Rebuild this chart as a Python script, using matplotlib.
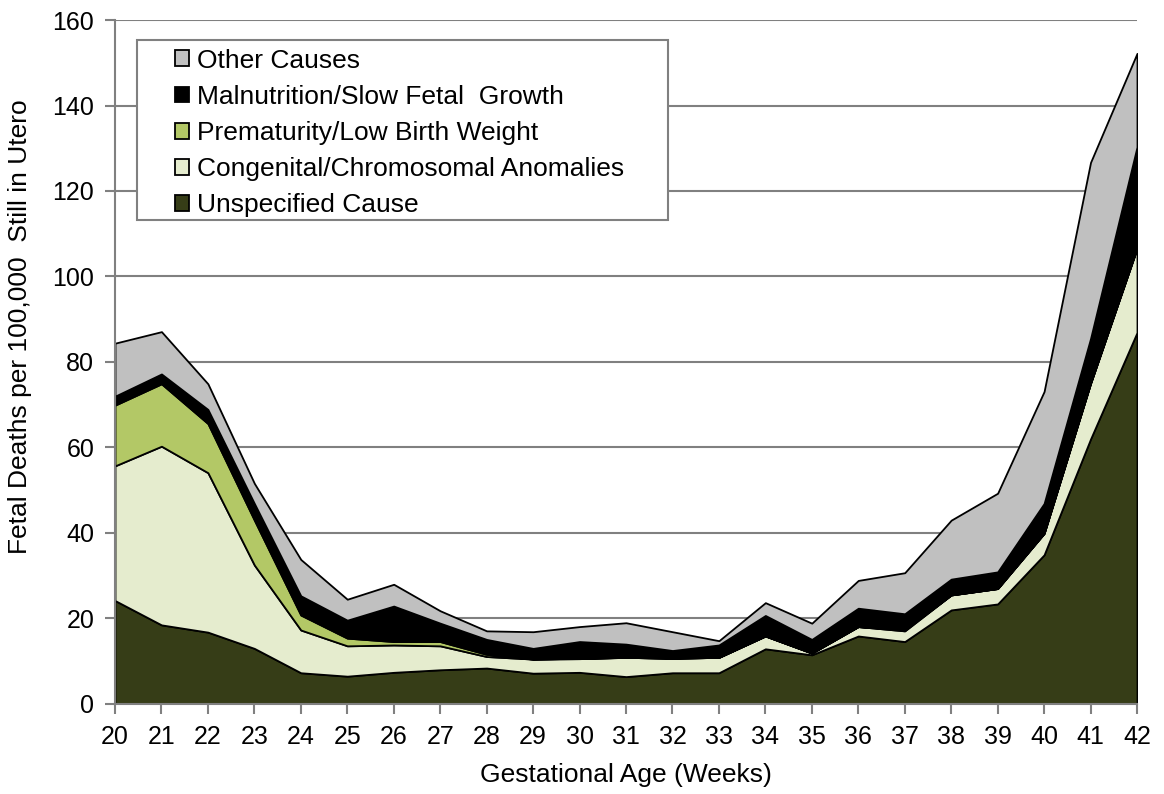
import matplotlib
matplotlib.use("Agg")
import matplotlib.pyplot as plt
from matplotlib.patches import Rectangle
import numpy as np

plt.rcParams['font.family'] = ['Liberation Sans', 'DejaVu Sans']

weeks = list(range(20, 43))
unspecified = [24.2, 18.5, 16.8, 13.0, 7.3, 6.5, 7.4, 8.0, 8.4, 7.2, 7.4, 6.4, 7.3, 7.3,
               12.9, 11.5, 15.9, 14.6, 22.0, 23.4, 34.9, 62.0, 86.9]
congenital = [31.5, 41.8, 37.3, 19.5, 10.0, 7.1, 6.4, 5.6, 2.7, 3.3, 3.2, 4.5, 3.4, 3.6,
              3.0, 0.4, 2.2, 2.5, 3.5, 3.6, 5.0, 13.0, 19.7]
prematurity = [14.2, 14.6, 11.5, 10.5, 3.5, 1.8, 0.8, 1.0, 0.5, 0.0, 0.1, 0.0, 0.0, 0.0,
               0.0, 0.0, 0.0, 0.3, 0.0, 0.0, 0.0, 0.0, 0.0]
malnutrition = [2.1, 2.3, 3.3, 3.9, 4.5, 4.2, 8.3, 4.3, 3.5, 2.5, 3.9, 3.1, 1.8, 2.9,
                4.8, 3.2, 4.3, 3.7, 3.7, 3.9, 7.0, 10.5, 23.7]
other = [12.4, 9.9, 6.0, 4.7, 8.5, 4.9, 5.1, 2.9, 2.0, 3.9, 3.5, 5.0, 4.4, 1.0,
         3.0, 3.8, 6.5, 9.6, 13.8, 18.4, 26.2, 41.2, 21.9]

labels = ["Unspecified Cause", "Congenital/Chromosomal Anomalies",
          "Prematurity/Low Birth Weight", "Malnutrition/Slow Fetal  Growth", "Other Causes"]
colors = ["#363d17", "#e5ecce", "#b3c866", "#000000", "#c0c0c0"]

fig = plt.figure(figsize=(11.64, 7.94), dpi=100)
ax = fig.add_axes([0.0988, 0.1134, 0.8780, 0.8614])

ax.set_axisbelow(True)
ax.yaxis.grid(True, color="#808080", linewidth=1.5)
polys = ax.stackplot(weeks, unspecified, congenital, prematurity, malnutrition, other,
                     colors=colors, edgecolor="black", linewidth=1.3, labels=labels)

ax.set_xlim(20, 42)
ax.set_ylim(0, 160)
ax.set_xticks(weeks)
ax.set_yticks(np.arange(0, 161, 20))
ax.tick_params(axis='both', direction='out', length=7, width=1.5, color="#808080",
               labelsize=18, pad=8)
for s in ['top', 'right']:
    ax.spines[s].set_visible(False)
for s in ['left', 'bottom']:
    ax.spines[s].set_color("#808080")
    ax.spines[s].set_linewidth(1.5)

ax.set_xlabel("Gestational Age (Weeks)", fontsize=19, labelpad=10)
ax.set_ylabel("Fetal Deaths per 100,000  Still in Utero", fontsize=19)
ax.yaxis.set_label_coords(-0.081, 0.551)

# legend frame
frame = Rectangle((0.0215, 0.7076), 0.5196, 0.2632, transform=ax.transAxes,
                  facecolor="white", edgecolor="#808080", linewidth=1.5, zorder=4)
ax.add_patch(frame)

handles, labs = ax.get_legend_handles_labels()
leg = ax.legend(handles[::-1], labs[::-1], loc='upper left',
                bbox_to_anchor=(0.0585, 0.958), borderaxespad=0, borderpad=0,
                fontsize=19, handlelength=0.55, handleheight=0.55, handletextpad=0.28,
                labelspacing=0.46, frameon=False)
leg.set_zorder(5)

fig.savefig("out.png", dpi=100)
